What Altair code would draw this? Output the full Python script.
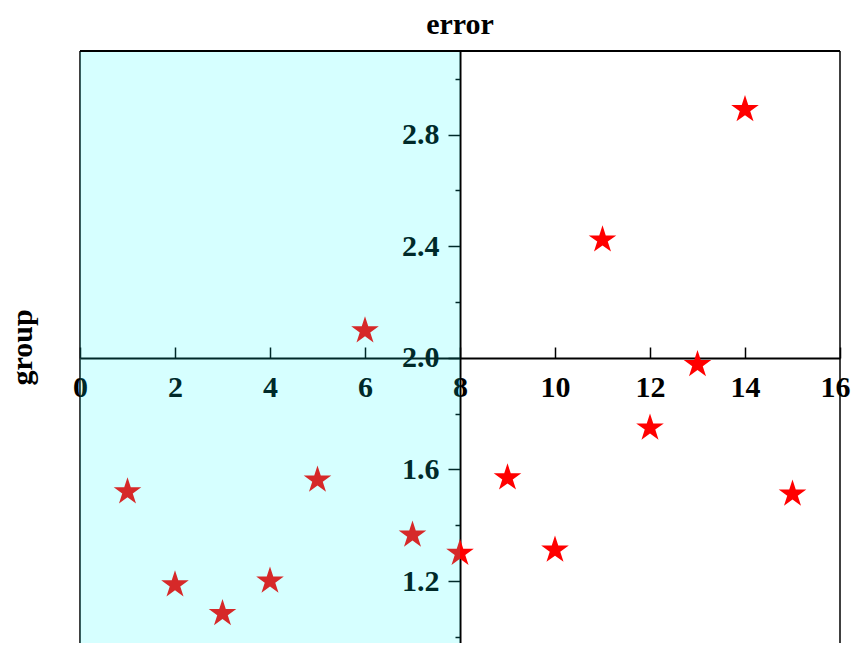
import altair as alt
import pandas as pd

# ---- data ----
x_vals = [1, 2, 3, 4, 5, 6, 7, 8, 9, 10, 11, 12, 13, 14, 15]
y_vals = [1.52, 1.187, 1.084, 1.20, 1.562, 2.097, 1.365, 1.30, 1.57, 1.311, 2.423, 1.749, 1.976, 2.89, 1.512]

x_domain = [0, 16]
y_domain = [0.978, 3.1]
x_ticks = [0, 2, 4, 6, 8, 10, 12, 14, 16]
y_major = [1.2, 1.6, 2.0, 2.4, 2.8]
y_minor = [1.0, 1.4, 1.8, 2.2, 2.6, 3.0]
shade_range = [0, 8]
title_text = "error"
y_title = "group"

FONT = "Liberation Serif"
STAR = ("M0,-1 L0.2245,-0.309 L0.9511,-0.309 L0.3633,0.118 L0.5878,0.809 "
        "L0,0.382 L-0.5878,0.809 L-0.3633,0.118 L-0.9511,-0.309 L-0.2245,-0.309 Z")

W, H = 760, 592

xs = alt.Scale(domain=x_domain, nice=False, zero=False)
ys = alt.Scale(domain=y_domain, nice=False, zero=False)

df = pd.DataFrame({"x": x_vals, "y": y_vals})

points = alt.Chart(df).mark_point(
    shape=STAR, filled=True, size=841, color="#ff0000", opacity=1, strokeWidth=0
).encode(
    x=alt.X("x:Q", scale=xs, axis=alt.Axis(
        orient="top", offset=-307, values=x_ticks, format="d",
        tickSize=11, tickWidth=1.5, tickColor="black",
        domainWidth=2, domainColor="black",
        labelFont=FONT, labelFontSize=30, labelFontWeight="bold", labelColor="black",
        labelBaseline="top", labelPadding=-25, labelFlush=False, labelOverlap=False,
        labelOffset={"condition": {"test": f"datum.value == {x_domain[1]}", "value": -5}, "value": 0},
        grid=False, title=None)),
    y=alt.Y("y:Q", scale=ys, axis=alt.Axis(
        orient="left", offset=-380, values=y_major, format=".1f",
        tickSize=12, tickWidth=1.5, tickColor="black",
        domainWidth=2, domainColor="black",
        labelFont=FONT, labelFontSize=30, labelFontWeight="bold", labelColor="black",
        labelPadding=9, labelFlush=False, labelOverlap=False,
        grid=False, title=None)),
)

left_df = pd.DataFrame({"x": [x_domain[0]], "y": [y_domain[0]], "y2": [y_domain[1]]})
left_rule = alt.Chart(left_df).mark_rule(color="black", strokeWidth=1.5).encode(
    x=alt.X("x:Q", scale=xs, title=None),
    y=alt.Y("y:Q", scale=ys, axis=alt.Axis(
        orient="left", offset=-380, values=y_minor,
        tickSize=5, tickWidth=1.5, tickColor="black",
        labels=False, domain=False, grid=False,
        title=y_title, titleFont=FONT, titleFontSize=30, titleFontWeight="bold",
        titleColor="black", titlePadding=417)),
    y2="y2:Q",
)

shade_df = pd.DataFrame({"x": [shade_range[0]], "x2": [shade_range[1]]})
overlay = alt.Chart(shade_df).mark_rect(color="#00ffff", opacity=0.16).encode(
    x=alt.X("x:Q", scale=xs, title=None),
    x2="x2:Q",
)

top_df = pd.DataFrame({"y": [y_domain[1]]})
top_rule = alt.Chart(top_df).mark_rule(color="black", strokeWidth=2).encode(
    y=alt.Y("y:Q", scale=ys, axis=None),
)

right_df = pd.DataFrame({"x": [x_domain[1]]})
right_rule = alt.Chart(right_df).mark_rule(color="black", strokeWidth=1.5).encode(
    x=alt.X("x:Q", scale=xs, title=None),
)

chart = alt.layer(points, left_rule, overlay, top_rule, right_rule).resolve_axis(
    y="independent"
).properties(
    width=W, height=H,
    autosize=alt.AutoSizeParams(type="none"),
    padding={"left": 72, "top": 43, "right": 11, "bottom": 0},
    title=alt.TitleParams(title_text, font=FONT, fontSize=30, fontWeight="bold",
                          color="black", offset=10, anchor="middle"),
).configure_view(strokeOpacity=0)

chart.save("out.html", embed_options={"renderer": "svg", "actions": False})
